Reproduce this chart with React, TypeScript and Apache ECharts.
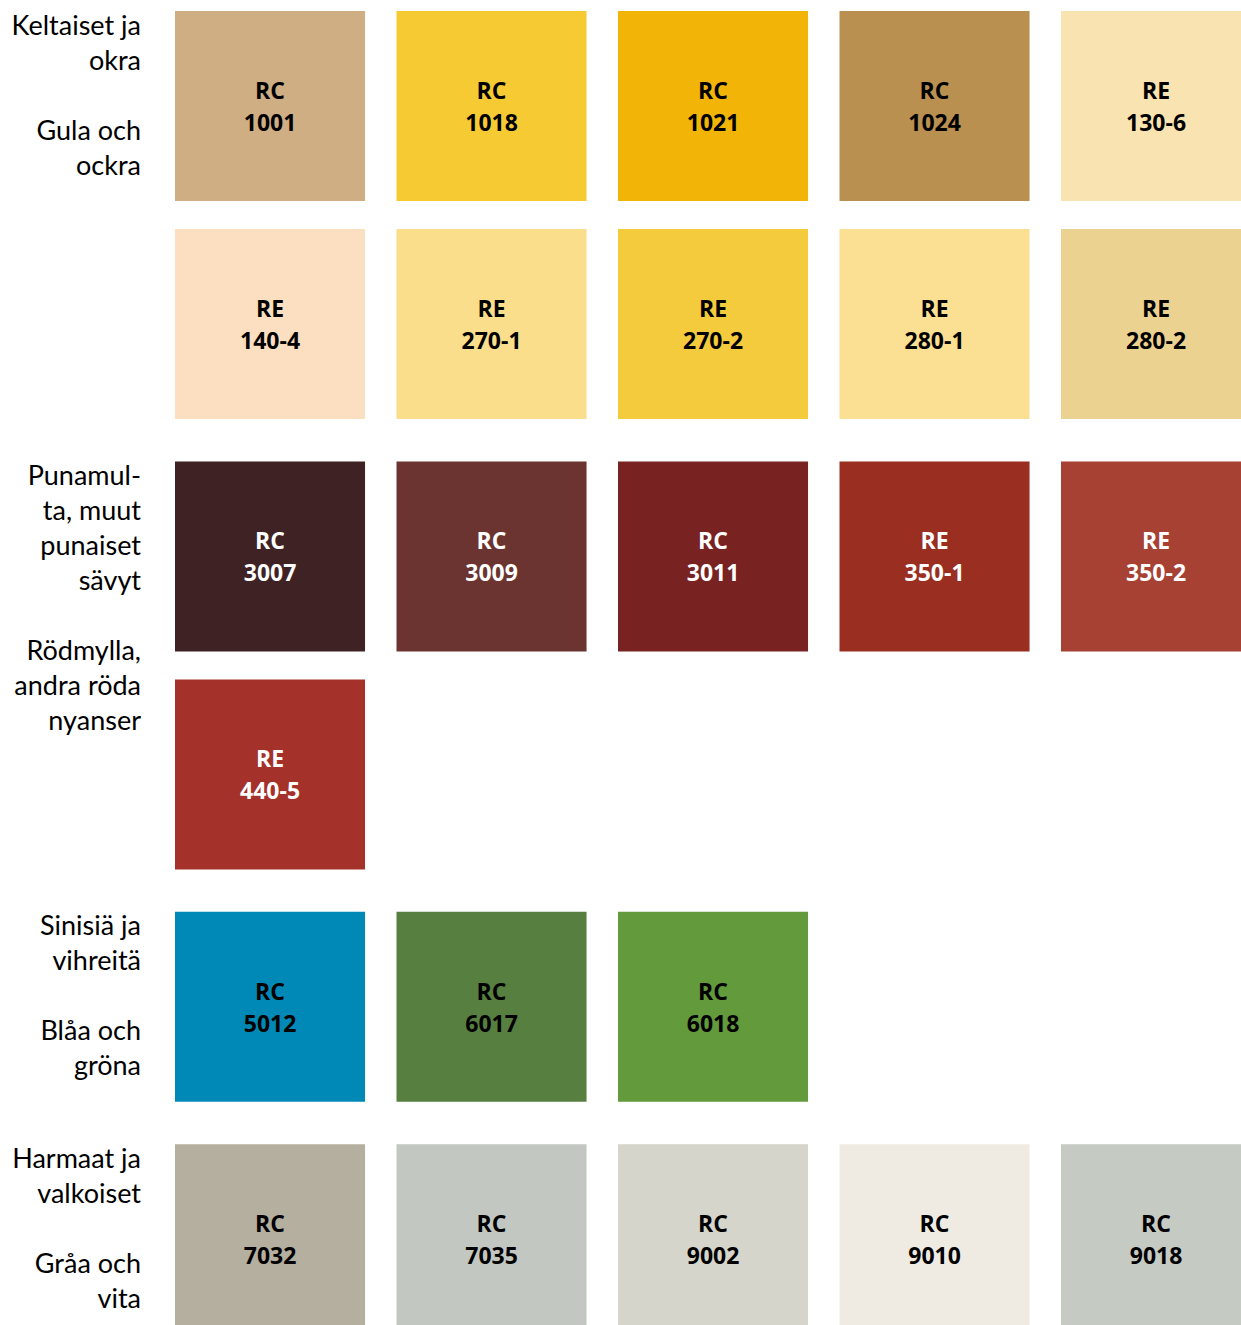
import React, { useEffect, useRef } from "react";
import * as echarts from "echarts";

// Swatch data
const swatchPrefix = [
  "RC", "RC", "RC", "RC", "RE",
  "RE", "RE", "RE", "RE", "RE",
  "RC", "RC", "RC", "RE", "RE",
  "RE",
  "RC", "RC", "RC",
  "RC", "RC", "RC", "RC", "RC",
];
const swatchNumber = [
  "1001", "1018", "1021", "1024", "130-6",
  "140-4", "270-1", "270-2", "280-1", "280-2",
  "3007", "3009", "3011", "350-1", "350-2",
  "440-5",
  "5012", "6017", "6018",
  "7032", "7035", "9002", "9010", "9018",
];
const swatchColor = [
  "#CFAE84", "#F6CA33", "#F2B507", "#B99050", "#F9E3B0",
  "#FCDFC1", "#FBDE8C", "#F4CB3C", "#FBDF93", "#ECD291",
  "#3F2224", "#6B3430", "#782222", "#9A2F21", "#A64133",
  "#A4322A",
  "#0089B7", "#577F40", "#629A3C",
  "#B4AF9E", "#C2C7C2", "#D5D5CB", "#F0EBE2", "#C5CAC3",
];
const swatchCol = [
  0, 1, 2, 3, 4,
  0, 1, 2, 3, 4,
  0, 1, 2, 3, 4,
  0,
  0, 1, 2,
  0, 1, 2, 3, 4,
];
const swatchRow = [
  0, 0, 0, 0, 0,
  1, 1, 1, 1, 1,
  2, 2, 2, 2, 2,
  3,
  4, 4, 4,
  5, 5, 5, 5, 5,
];
const swatchGroup = [
  0, 0, 0, 0, 0,
  0, 0, 0, 0, 0,
  1, 1, 1, 1, 1,
  1,
  2, 2, 2,
  3, 3, 3, 3, 3,
];

// Group labels (Finnish / Swedish)
const groupLabelFi = [
  "Keltaiset ja\nokra",
  "Punamul-\nta, muut\npunaiset\nsävyt",
  "Sinisiä ja\nvihreitä",
  "Harmaat ja\nvalkoiset",
];
const groupLabelSv = [
  "Gula och\nockra",
  "Rödmylla,\nandra röda\nnyanser",
  "Blåa och\ngröna",
  "Gråa och\nvita",
];

const GROUP_GAP = 0.066; // extra spacing between groups, in row units
const SWATCH_FRACTION = 0.858; // swatch size as fraction of column spacing
const LABEL_FONT = "Lato, 'Open Sans', sans-serif";
const CODE_FONT = "'Open Sans', Lato, sans-serif";

function luminance(hex: string): number {
  const c = [1, 3, 5].map((i) => parseInt(hex.slice(i, i + 2), 16) / 255);
  const l = c.map((v) => (v <= 0.03928 ? v / 12.92 : Math.pow((v + 0.055) / 1.055, 2.4)));
  return 0.2126 * l[0] + 0.7152 * l[1] + 0.0722 * l[2];
}

export default function App() {
  const ref = useRef<HTMLDivElement>(null);

  useEffect(() => {
    if (!ref.current) return;
    const chart = echarts.init(ref.current, undefined, { renderer: "svg" });

    const data = swatchNumber.map((num, i) => [
      swatchCol[i],
      swatchRow[i] + swatchGroup[i] * GROUP_GAP,
      i,
    ]);

    const firstInGroup: Record<number, boolean> = {};
    const groupStart = swatchGroup.map((g) => {
      if (firstInGroup[g]) return false;
      firstInGroup[g] = true;
      return true;
    });

    const option: any = {
      animation: false,
      backgroundColor: "#ffffff",
      grid: { left: 175, top: 11, width: 5 * 221.5, height: 7 * 218 },
      xAxis: { type: "value", min: 0, max: 5, show: false },
      yAxis: { type: "value", min: 0, max: 7, inverse: true, show: false },
      series: [
        {
          type: "custom",
          clip: false,
          data,
          renderItem: (params: any, api: any) => {
            const col = api.value(0);
            const row = api.value(1);
            const idx = api.value(2);
            const p = api.coord([col, row]);
            const unit = api.size([1, 1]);
            const size = unit[0] * SWATCH_FRACTION;
            const color = swatchColor[idx];
            const txtColor = luminance(color) < 0.15 ? "#ffffff" : "#000000";
            const children: any[] = [
              {
                type: "rect",
                shape: { x: p[0], y: p[1], width: size, height: size },
                style: { fill: color },
              },
              {
                type: "text",
                x: p[0] + size / 2,
                y: p[1] + size / 2,
                style: {
                  text: swatchPrefix[idx] + "\n" + swatchNumber[idx],
                  fill: txtColor,
                  fontFamily: CODE_FONT,
                  fontWeight: "bold",
                  fontSize: 23,
                  lineHeight: 32,
                  align: "center",
                  verticalAlign: "middle",
                },
              },
            ];
            if (groupStart[idx]) {
              const g = swatchGroup[idx];
              children.push({
                type: "text",
                x: p[0] - 34,
                y: p[1] - 4.5,
                style: {
                  text: groupLabelFi[g] + "\n\n" + groupLabelSv[g],
                  fill: "#000000",
                  fontFamily: LABEL_FONT,
                  fontSize: 27,
                  lineHeight: 35,
                  align: "right",
                  verticalAlign: "top",
                },
              });
            }
            return { type: "group", children };
          },
        },
      ],
    };

    chart.setOption(option);
    return () => chart.dispose();
  }, []);

  return (
    <div
      style={{
        position: "fixed",
        left: 0,
        top: 0,
        width: 1241,
        height: 1325,
        overflow: "hidden",
        background: "#ffffff",
      }}
    >
      <div ref={ref} style={{ width: 1300, height: 1620 }} />
    </div>
  );
}
